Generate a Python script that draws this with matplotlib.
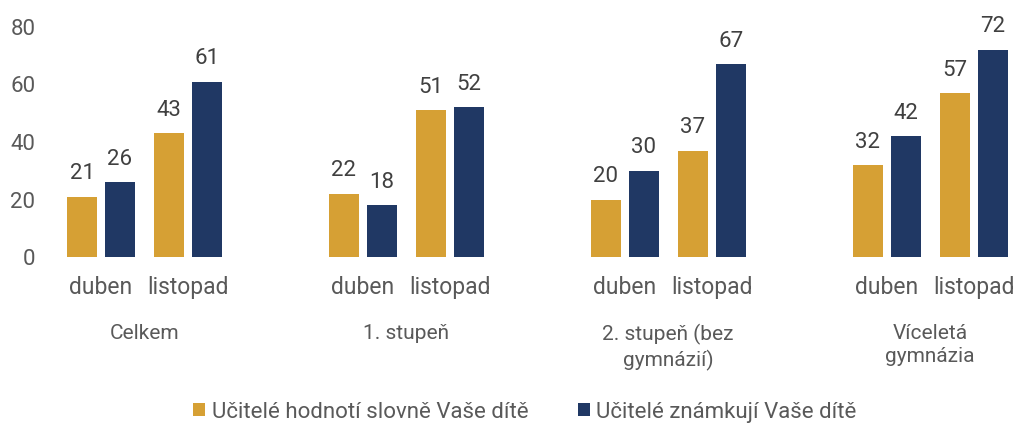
import matplotlib
matplotlib.use("Agg")
import matplotlib.pyplot as plt
import numpy as np
from matplotlib.patches import Patch

plt.rcParams['font.family'] = ['Roboto', 'DejaVu Sans']

groups = ["Celkem", "1. stupeň", "2. stupeň (bez\ngymnázií)", "Víceletá\ngymnázia"]
months = ["duben", "listopad"]
series_names = ["Učitelé hodnotí slovně Vaše dítě", "Učitelé známkují Vaše dítě"]
# values[series][group][month]
slovne = [[21, 43], [22, 51], [20, 37], [32, 57]]
znamky = [[26, 61], [18, 52], [30, 67], [42, 72]]
colors = ["#D6A034", "#203864"]
text_color = "#595959"
label_color = "#404040"

fig = plt.figure(figsize=(10.15, 4.23), dpi=100)
W, H = 1015, 423
ax = fig.add_axes([45 / W, 1 - 257 / H, (1015 - 45) / W, 230 / H])

group_step = 3.01
bar_w = 0.345
off = 0.218
slot_x = []
slot_lab = []
for g in range(len(groups)):
    for m in range(len(months)):
        x = g * group_step + m
        slot_x.append(x)
        slot_lab.append(months[m])
        for s, (vals, c) in enumerate(zip([slovne, znamky], colors)):
            xb = x + (-off if s == 0 else off)
            v = vals[g][m]
            ax.bar(xb, v, width=bar_w, color=c, edgecolor="none")
            ax.annotate(str(v), (xb, v), xytext=(0, 9), textcoords="offset points",
                        ha="center", va="bottom", fontsize=16, color=label_color,
                        annotation_clip=False)

ax.set_xlim((45 - 101) / 87, (1015 - 101) / 87)
ax.set_ylim(0, 80)
ax.set_yticks([0, 20, 40, 60, 80])
ax.tick_params(axis="y", length=0, labelsize=16, labelcolor=text_color, pad=7)
ax.set_xticks(slot_x)
ax.set_xticklabels(slot_lab)
ax.tick_params(axis="x", length=0, labelsize=16.5, labelcolor=text_color, pad=14)
for sp in ax.spines.values():
    sp.set_visible(False)

for g, name in enumerate(groups):
    xc = g * group_step + 0.5
    ax.text(xc, -0.29, name, transform=ax.get_xaxis_transform(), ha="center", va="top",
            fontsize=15, color=text_color, linespacing=1.3)

handles = [Patch(facecolor=c, edgecolor="none") for c in colors]
fig.legend(handles, series_names, loc="center", bbox_to_anchor=(525 / W, 1 - 412 / H),
           ncol=2, frameon=False, fontsize=16, labelcolor=text_color,
           handlelength=0.55, handleheight=0.55, handletextpad=0.3, columnspacing=2.2,
           borderpad=0.2)

fig.savefig("out.png", dpi=100)
